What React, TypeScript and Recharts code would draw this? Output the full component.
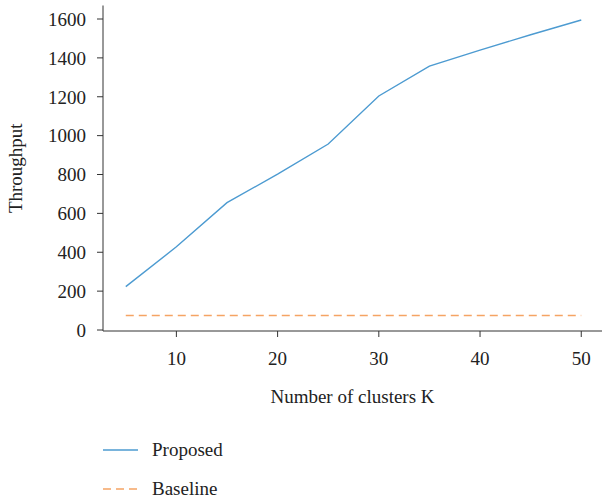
import React from 'react';
import { LineChart, Line, XAxis, YAxis, Legend } from 'recharts';

// Number of clusters K and measured throughput
const clusters = [5, 10, 15, 20, 25, 30, 35, 40, 45, 50];
const proposed = [223, 428, 655, 802, 957, 1204, 1358, 1440, 1519, 1595];
const baseline = [75, 75, 75, 75, 75, 75, 75, 75, 75, 75];
const xTicks = [10, 20, 30, 40, 50];
const yTicks = [0, 200, 400, 600, 800, 1000, 1200, 1400, 1600];

const data = clusters.map((k, i) => ({ k, proposed: proposed[i], baseline: baseline[i] }));

const FONT = '"Liberation Serif", "DejaVu Serif", serif';
const FS = 19;
const AXIS = '#333333';
const BLUE = '#4d9bd1';
const ORANGE = '#f5a464';

const LegendBox = () => (
    <div style={{ height: 70, width: 602, position: 'relative', fontFamily: FONT, fontSize: FS, color: '#222' }}>
        <div style={{ position: 'absolute', top: 8, left: 103, display: 'flex', alignItems: 'center', height: 24 }}>
            <svg width={35} height={4}><line x1={0} y1={2} x2={35} y2={2} stroke={BLUE} strokeWidth={1.4} /></svg>
            <span style={{ marginLeft: 14 }}>Proposed</span>
        </div>
        <div style={{ position: 'absolute', top: 47, left: 103, display: 'flex', alignItems: 'center', height: 24 }}>
            <svg width={35} height={4}><line x1={0} y1={2} x2={35} y2={2} stroke={ORANGE} strokeWidth={1.6} strokeDasharray="8 5" /></svg>
            <span style={{ marginLeft: 14 }}>Baseline</span>
        </div>
    </div>
);

export default function App() {
    return (
        <div style={{ position: 'absolute', left: 0, top: 0, width: 602, height: 500, overflow: 'hidden', background: '#fff' }}>
            <LineChart width={602} height={500} data={data} margin={{ top: 5.5, right: 0, left: 0, bottom: 0 }}>
                <XAxis
                    dataKey="k"
                    type="number"
                    domain={[2.75, 52.05]}
                    ticks={xTicks}
                    allowDataOverflow
                    height={99}
                    stroke={AXIS}
                    tickSize={6}
                    tickMargin={15}
                    tick={{ fill: '#222', fontFamily: FONT, fontSize: FS }}
                    label={{ value: 'Number of clusters K', position: 'insideTop', offset: 59, fill: '#222', fontFamily: FONT, fontSize: FS }}
                />
                <XAxis xAxisId="top" orientation="top" dataKey="k" type="number" domain={[2.75, 52.05]} height={0} tick={false} tickLine={false} stroke={AXIS} />
                <YAxis
                    type="number"
                    domain={[-5.1, 1669.5]}
                    ticks={yTicks}
                    allowDataOverflow
                    width={103}
                    stroke={AXIS}
                    tickSize={6}
                    tickMargin={11}
                    tick={{ fill: '#222', fontFamily: FONT, fontSize: FS }}
                    label={{ value: 'Throughput', angle: -90, position: 'insideLeft', offset: 15, fill: '#222', fontFamily: FONT, fontSize: FS, style: { textAnchor: 'middle' } }}
                />
                <Legend verticalAlign="bottom" content={() => <LegendBox />} wrapperStyle={{ left: 0, width: 602 }} />
                <Line type="linear" dataKey="proposed" stroke={BLUE} strokeWidth={1.4} dot={false} isAnimationActive={false} />
                <Line type="linear" dataKey="baseline" stroke={ORANGE} strokeWidth={1.6} strokeDasharray="8 5" dot={false} isAnimationActive={false} />
            </LineChart>
        </div>
    );
}
